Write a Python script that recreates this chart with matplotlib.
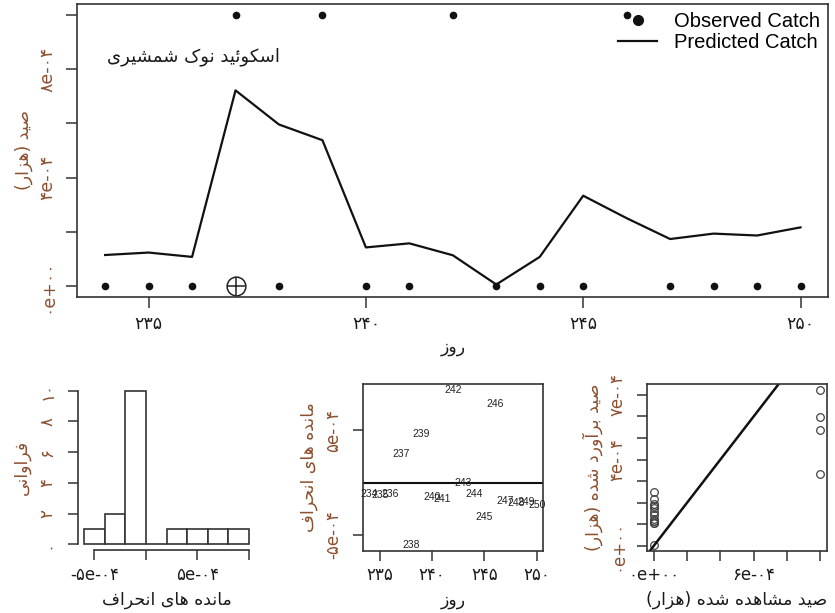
import numpy as np
import matplotlib
matplotlib.use('Agg')
import matplotlib.pyplot as plt
from matplotlib.lines import Line2D

plt.rcParams['font.family'] = ['DejaVu Sans']

# داده ها
days = [234, 235, 236, 237, 238, 239, 240, 241, 242, 243, 244, 245, 246, 247, 248, 249, 250]
observed = [0, 0, 0, 1e-3, 0, 1e-3, 0, 0, 1e-3, 0, 0, 0, 1e-3, 0, 0, 0, 0]
predicted = [1.14e-4, 1.23e-4, 1.07e-4, 7.22e-4, 5.96e-4, 5.38e-4, 1.42e-4, 1.57e-4, 1.13e-4,
             0.05e-4, 1.07e-4, 3.33e-4, 2.50e-4, 1.73e-4, 1.93e-4, 1.86e-4, 2.16e-4]
flag_days = [237]
flag_vals = [0.0]
# observed values as they appear in the fitted-vs-observed panel
scatter_obs = [0, 0, 0, 1e-3, 1e-3, 1e-3, 0, 0, 0, 0, 0, 1e-3, 0, 0, 0, 0, 0]
hist_edges = [-6e-4, -4e-4, -2e-4, 0, 2e-4, 4e-4, 6e-4, 8e-4, 1e-3]

top_xticks = [235, 240, 245, 250]
top_xticklabels = ['۲۳۵', '۲۴۰', '۲۴۵', '۲۵۰']
top_yticks = [0, 2e-4, 4e-4, 6e-4, 8e-4, 1e-3]
top_yticklabels = ['۰e+۰۰', '', '۴e-۰۴', '', '۸e-۰۴', '']
hist_xticks = [-5e-4, 0, 5e-4, 1e-3]
hist_xticklabels = ['-۵e-۰۴', '', '۵e-۰۴', '']
hist_yticks = [0, 2, 4, 6, 8, 10]
hist_yticklabels = ['۰', '۲', '۴', '۶', '۸', '۱۰']
res_yticks = [-5e-4, 5e-4]
res_yticklabels = ['-۵e-۰۴', '۵e-۰۴']
sc_xticks = [0, 2e-4, 4e-4, 6e-4, 8e-4, 1e-3]
sc_xticklabels = ['۰e+۰۰', '', '', '۶e-۰۴', '', '']
sc_yticks = [0, 1e-4, 2e-4, 3e-4, 4e-4, 5e-4, 6e-4, 7e-4]
sc_yticklabels = ['۰e+۰۰', '', '', '', '۴e-۰۴', '', '', '۷e-۰۴']

# شکل دادن حروف فارسی (بدون کتابخانه reshaper)
FORMS = {
    'ا': ('\uFE8D', '\uFE8E', None, None),
    'آ': ('\uFE81', '\uFE82', None, None),
    'ب': ('\uFE8F', '\uFE90', '\uFE91', '\uFE92'),
    'ح': ('\uFEA1', '\uFEA2', '\uFEA3', '\uFEA4'),
    'د': ('\uFEA9', '\uFEAA', None, None),
    'ر': ('\uFEAD', '\uFEAE', None, None),
    'ز': ('\uFEAF', '\uFEB0', None, None),
    'س': ('\uFEB1', '\uFEB2', '\uFEB3', '\uFEB4'),
    'ش': ('\uFEB5', '\uFEB6', '\uFEB7', '\uFEB8'),
    'ص': ('\uFEB9', '\uFEBA', '\uFEBB', '\uFEBC'),
    'ف': ('\uFED1', '\uFED2', '\uFED3', '\uFED4'),
    'م': ('\uFEE1', '\uFEE2', '\uFEE3', '\uFEE4'),
    'ن': ('\uFEE5', '\uFEE6', '\uFEE7', '\uFEE8'),
    'ه': ('\uFEE9', '\uFEEA', '\uFEEB', '\uFEEC'),
    'و': ('\uFEED', '\uFEEE', None, None),
    'ئ': ('\uFE89', '\uFE8A', '\uFE8B', '\uFE8C'),
    'ی': ('\uFBFC', '\uFBFD', '\uFBFE', '\uFBFF'),
    'ک': ('\uFB8E', '\uFB8F', '\uFB90', '\uFB91'),
}


def fa(s):
    out = []
    for i, ch in enumerate(s):
        if ch not in FORMS:
            out.append(ch)
            continue
        iso, fin, ini, med = FORMS[ch]
        prev = s[i - 1] if i > 0 else ''
        nxt = s[i + 1] if i + 1 < len(s) else ''
        jp = prev in FORMS and FORMS[prev][2] is not None
        jn = ini is not None and nxt in FORMS
        if jp and jn:
            out.append(med)
        elif jp:
            out.append(fin)
        elif jn:
            out.append(ini)
        else:
            out.append(iso)
    mirror = {'(': ')', ')': '('}
    return ''.join(mirror.get(c, c) for c in reversed(out))


def r_lim(v):
    lo, hi = min(v), max(v)
    d = (hi - lo) * 0.04
    return lo - d, hi + d


ROT = '#8c4f2e'
INK = '#1a1a1a'
EDGE = '#333333'
residuals = np.array(observed) - np.array(predicted)

fig = plt.figure(figsize=(8.35, 6.13), dpi=100)

# نمودار بالا
ax = fig.add_axes([0.0926, 0.516, 0.8994, 0.477])
ax.plot(days, predicted, color='#111111', lw=1.6)
ax.plot(days, observed, 'o', color='#111111', ms=4.5)
ax.plot(flag_days, flag_vals, 'o', mfc='none', mec='#222222', ms=13.5, mew=1.1)
ax.plot(flag_days, flag_vals, '+', color='#222222', ms=13.5, mew=1.1)
ax.set_xlim(r_lim(days))
ax.set_ylim(r_lim(observed + predicted))
ax.set_xticks(top_xticks)
ax.set_xticklabels(top_xticklabels, fontsize=12.5, color=INK)
ax.set_yticks(top_yticks)
ax.set_yticklabels(top_yticklabels, rotation=90, va='center', fontsize=12.5, color=ROT)
ax.tick_params(direction='out', length=8, width=1.1, color=EDGE)
ax.tick_params(axis='x', pad=5)
ax.tick_params(axis='y', pad=7)
ax.set_xlabel(fa('روز'), fontsize=12.5, color=INK, labelpad=4)
ax.set_ylabel(fa('صید (هزار)'), fontsize=12.5, color=ROT, labelpad=4)
ax.text(0.155, 0.82, fa('اسکوئید نوک شمشیری'), transform=ax.transAxes,
        ha='center', va='center', fontsize=13, color=INK)
handles = [Line2D([], [], marker='o', ls='none', color='#111111', ms=7),
           Line2D([], [], color='#111111', lw=1.6)]
ax.legend(handles, ['Observed Catch', 'Predicted Catch'], loc='upper right',
          frameon=False, prop={'family': 'Liberation Sans', 'size': 14.5},
          handlelength=1.95, handletextpad=0.85, labelspacing=0.1,
          borderaxespad=0.0, borderpad=0.4)
for s in ax.spines.values():
    s.set_linewidth(1.2)
    s.set_color(EDGE)

# هیستوگرام مانده ها
ax2 = fig.add_axes([0.0929, 0.1021, 0.2132, 0.2705])
n, _, _ = ax2.hist(residuals, bins=hist_edges, facecolor='white', edgecolor=EDGE, lw=1.2)
ax2.set_xlim(r_lim(hist_edges))
ax2.set_ylim(r_lim([0, n.max()]))
ax2.spines['top'].set_visible(False)
ax2.spines['right'].set_visible(False)
ax2.spines['left'].set_bounds(0, n.max())
ax2.spines['bottom'].set_bounds(hist_xticks[0], hist_xticks[-1])
ax2.set_xticks(hist_xticks)
ax2.set_xticklabels(hist_xticklabels, fontsize=12, color=INK)
ax2.set_yticks(hist_yticks)
ax2.set_yticklabels(hist_yticklabels, rotation=90, va='center', fontsize=12, color=ROT)
ax2.set_xlabel(fa('مانده های انحراف'), fontsize=12.5, color=INK, labelpad=5)
ax2.set_ylabel(fa('فراوانی'), fontsize=12.5, color=ROT, labelpad=6)

# مانده ها در برابر روز
ax3 = fig.add_axes([0.4344, 0.1016, 0.2163, 0.2719])
for d, r in zip(days, residuals):
    ax3.text(d, r, str(d), ha='center', va='center', fontsize=7.5,
             family='Liberation Sans', color='#222222')
ax3.axhline(0, color='#111111', lw=1.5)
ax3.set_xlim(r_lim(days))
ax3.set_ylim(r_lim(residuals))
ax3.set_xticks(top_xticks)
ax3.set_xticklabels(top_xticklabels, fontsize=12, color=INK)
ax3.set_yticks(res_yticks)
ax3.set_yticklabels(res_yticklabels, rotation=90, va='center', fontsize=12, color=ROT)
ax3.set_xlabel(fa('روز'), fontsize=12.5, color=INK, labelpad=5)
ax3.set_ylabel(fa('مانده های انحراف'), fontsize=12.5, color=ROT, labelpad=4)

# برآورد در برابر مشاهده
ax4 = fig.add_axes([0.7752, 0.1016, 0.2149, 0.2719])
ax4.plot(scatter_obs, predicted, 'o', mfc='none', mec='#444444', ms=5.5, mew=0.9)
ax4.axline((0, 0), slope=1, color='#111111', lw=1.8)
ax4.set_xlim(r_lim(scatter_obs))
ax4.set_ylim(r_lim(predicted))
ax4.set_xticks(sc_xticks)
ax4.set_xticklabels(sc_xticklabels, fontsize=12, color=INK)
ax4.set_yticks(sc_yticks)
ax4.set_yticklabels(sc_yticklabels, rotation=90, va='center', fontsize=12, color=ROT)
ax4.set_xlabel(fa('صید مشاهده شده (هزار)'), fontsize=12.5, color=INK, labelpad=5)
ax4.set_ylabel(fa('صید برآورد شده (هزار)'), fontsize=12.5, color=ROT, labelpad=4)

for a in (ax2, ax3, ax4):
    a.tick_params(direction='out', length=7, width=1.1, color=EDGE)
    a.tick_params(axis='x', pad=4)
    a.tick_params(axis='y', pad=8)
    for s in a.spines.values():
        s.set_linewidth(1.2)
        s.set_color(EDGE)

fig.savefig('out.png', dpi=100)
